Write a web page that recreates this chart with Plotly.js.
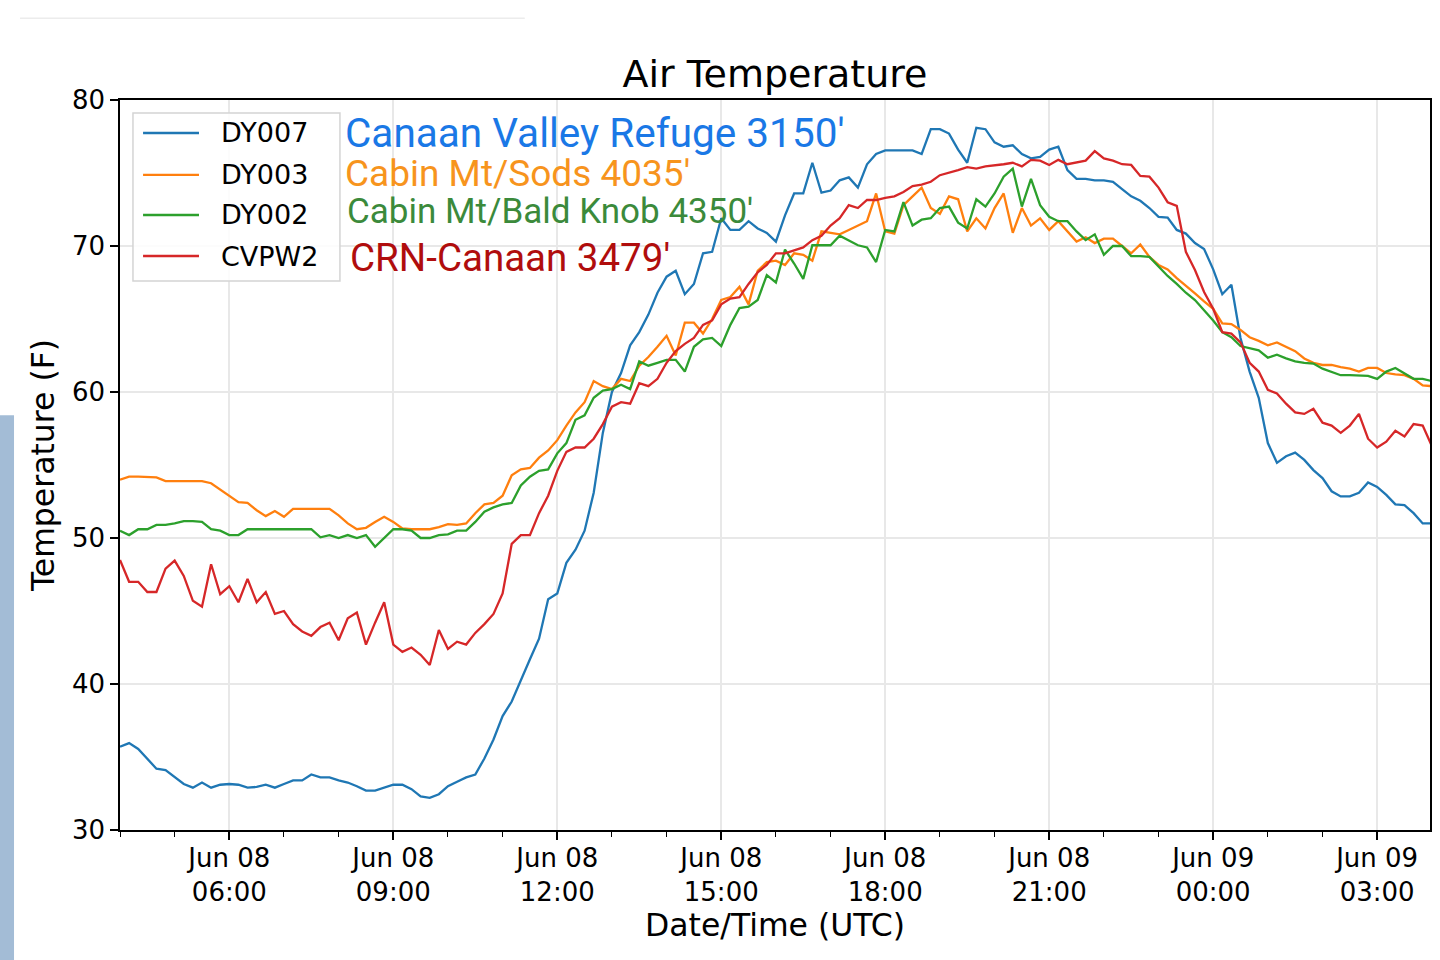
<!DOCTYPE html>
<html>
<head>
<meta charset="utf-8">
<script src="https://cdn.plot.ly/plotly-3.0.1.min.js"></script>
<style>
  body { margin: 0; background: #fff; }
  #plot-area { width: 1440px; height: 960px; }
</style>
</head>
<body>
<div id="plot-area"></div>
<script>
// 10-minute readings, Jun 08 04:00 UTC -> Jun 09 04:00 UTC
const startDay = 8
const startMinute = 4 * 60
const stepMinutes = 10

const stations = ["DY007", "DY003", "DY002", "CVPW2"]
const siteLabels = ["Canaan Valley Refuge 3150'", "Cabin Mt/Sods 4035'", "Cabin Mt/Bald Knob 4350'", "CRN-Canaan 3479'"]

const dy007 = [
  35.7, 35.95, 35.55, 34.85, 34.2, 34.1, 33.6, 33.15, 32.9, 33.25,
  32.9, 33.1, 33.15, 33.1, 32.9, 32.95, 33.1, 32.9, 33.15, 33.4,
  33.4, 33.8, 33.6, 33.6, 33.4, 33.25, 33.0, 32.7, 32.7, 32.9,
  33.1, 33.1, 32.8, 32.3, 32.2, 32.45, 33.0, 33.3, 33.6, 33.8,
  34.9, 36.2, 37.8, 38.8, 40.3, 41.7, 43.1, 45.8, 46.2, 48.3,
  49.2, 50.5, 53.1, 57.2, 60.0, 61.3, 63.2, 64.1, 65.3, 66.8,
  67.9, 68.3, 66.7, 67.4, 69.5, 69.6, 71.9, 71.1, 71.1, 71.7,
  71.2, 70.9, 70.3, 72.1, 73.6, 73.6, 75.7, 73.65, 73.8, 74.5,
  74.7, 74.0, 75.6, 76.3, 76.55, 76.55, 76.55, 76.55, 76.3, 78.0,
  78.0, 77.7, 76.6, 75.7, 78.1, 78.0, 77.1, 76.8, 76.9, 76.3,
  76.0, 76.1, 76.6, 76.8, 75.2, 74.6, 74.6, 74.5, 74.5, 74.4,
  73.9, 73.4, 73.1, 72.6, 72.0, 71.95, 71.1, 70.85, 70.2, 69.8,
  68.4, 66.7, 67.35, 63.7, 61.4, 59.6, 56.5, 55.15, 55.6, 55.85,
  55.35, 54.65, 54.1, 53.2, 52.85, 52.85, 53.1, 53.8, 53.5, 52.95,
  52.3, 52.25, 51.7, 51.0, 51.0
]

const dy003 = [
  54.0, 54.2, 54.2, 54.2, 54.15, 53.9, 53.9, 53.9, 53.9, 53.9,
  53.75, 53.3, 52.9, 52.45, 52.4, 51.9, 51.5, 51.85, 51.45, 52.0,
  52.0, 52.0, 52.0, 52.0, 51.55, 51.0, 50.6, 50.7, 51.1, 51.45,
  51.1, 50.65, 50.6, 50.6, 50.6, 50.75, 50.95, 50.9, 51.0, 51.7,
  52.3, 52.4, 52.9, 54.3, 54.7, 54.8, 55.5, 56.0, 56.7, 57.7,
  58.6, 59.3, 60.75, 60.4, 60.2, 60.9, 60.75, 61.8, 62.4, 63.1,
  63.85, 62.5, 64.75, 64.75, 64.0, 65.0, 66.3, 66.5, 67.2, 66.0,
  68.3, 68.9, 69.0, 68.7, 69.5, 69.4, 69.0, 71.0, 70.9, 70.8,
  71.1, 71.4, 71.7, 73.6, 71.0, 70.85, 72.8, 73.4, 74.0, 72.6,
  72.2, 73.4, 73.2, 71.0, 71.9, 71.2, 72.6, 73.6, 70.9, 72.6,
  71.4, 71.9, 71.1, 71.7, 71.0, 70.3, 70.6, 70.2, 70.5, 70.5,
  70.0, 69.5, 70.1, 69.25, 68.7, 68.4, 67.8, 67.3, 66.75, 66.2,
  65.7, 64.7, 64.65, 64.25, 63.75, 63.5, 63.2, 63.4, 63.1, 62.8,
  62.3, 62.0, 61.85, 61.85, 61.7, 61.6, 61.4, 61.65, 61.65, 61.3,
  61.2, 61.15, 60.9, 60.45, 60.4
]

const dy002 = [
  50.5, 50.2, 50.6, 50.6, 50.9, 50.9, 51.0, 51.15, 51.15, 51.1,
  50.6, 50.5, 50.2, 50.2, 50.6, 50.6, 50.6, 50.6, 50.6, 50.6,
  50.6, 50.6, 50.05, 50.2, 50.0, 50.2, 50.0, 50.2, 49.4, 50.0,
  50.6, 50.6, 50.5, 50.0, 50.0, 50.2, 50.25, 50.5, 50.5, 51.1,
  51.8, 52.1, 52.3, 52.4, 53.6, 54.2, 54.6, 54.7, 55.8, 56.5,
  58.1, 58.4, 59.6, 60.1, 60.2, 60.5, 60.2, 62.1, 61.8, 62.0,
  62.2, 62.2, 61.4, 63.1, 63.6, 63.7, 63.15, 64.6, 65.75, 65.85,
  66.3, 68.0, 67.5, 69.75, 68.8, 67.75, 70.05, 70.05, 70.05, 70.7,
  70.4, 70.05, 69.9, 68.9, 71.1, 71.0, 73.0, 71.4, 71.8, 71.9,
  72.6, 72.7, 71.6, 71.2, 73.2, 72.7, 73.6, 74.75, 75.3, 72.7,
  74.6, 72.8, 72.0, 71.7, 71.7, 71.0, 70.4, 70.8, 69.4, 70.0,
  70.0, 69.3, 69.3, 69.25, 68.6, 67.95, 67.4, 66.8, 66.3, 65.6,
  64.9, 64.1, 63.75, 63.15, 63.0, 62.85, 62.35, 62.55, 62.3, 62.1,
  62.0, 61.95, 61.6, 61.4, 61.15, 61.15, 61.15, 61.1, 60.9, 61.4,
  61.65, 61.25, 60.9, 60.9, 60.75
]

const cvpw2 = [
  48.5, 47.0, 47.0, 46.3, 46.3, 47.9, 48.45, 47.4, 45.7, 45.3,
  48.2, 46.15, 46.7, 45.6, 47.2, 45.6, 46.3, 44.8, 45.0, 44.1,
  43.6, 43.3, 43.9, 44.2, 43.0, 44.5, 44.9, 42.7, 44.2, 45.6,
  42.7, 42.2, 42.5, 42.0, 41.3, 43.7, 42.4, 42.9, 42.7, 43.5,
  44.1, 44.8, 46.2, 49.6, 50.2, 50.2, 51.7, 52.9, 54.6, 55.9,
  56.2, 56.2, 56.8, 57.8, 59.0, 59.3, 59.2, 60.6, 60.4, 60.9,
  62.0, 62.8, 63.3, 63.7, 64.6, 64.9, 66.0, 66.4, 66.5, 67.4,
  68.2, 68.7, 69.5, 69.5, 69.7, 69.9, 70.4, 70.7, 71.4, 71.9,
  72.8, 72.6, 73.15, 73.15, 73.3, 73.4, 73.7, 74.1, 74.2, 74.4,
  74.85, 75.0, 75.2, 75.4, 75.3, 75.45, 75.5, 75.6, 75.7, 75.45,
  75.9, 75.85, 75.55, 75.9, 75.6, 75.7, 75.85, 76.5, 76.0, 75.85,
  75.6, 75.55, 74.8, 74.75, 74.0, 73.0, 72.75, 69.6, 68.35, 66.85,
  65.7, 64.1, 64.0, 63.4, 62.0, 61.4, 60.15, 59.9, 59.2, 58.6,
  58.5, 58.85, 57.9, 57.7, 57.2, 57.7, 58.5, 56.8, 56.2, 56.6,
  57.35, 56.95, 57.8, 57.7, 56.3
]

const lineColors = ["#1f77b4", "#ff7f0e", "#2ca02c", "#d62728"]
const labelColors = ["#1a78e6", "#f7941d", "#3b8a3b", "#b00d0d"]

function pad(n) {
  return String(n).padStart(2, "0")
}

function stamp(i) {
  const total = startMinute + i * stepMinutes
  const day = startDay + Math.floor(total / 1440)
  const m = total % 1440
  return "2019-06-" + pad(day) + " " + pad(Math.floor(m / 60)) + ":" + pad(m % 60)
}

const times = dy007.map((_, i) => stamp(i))
const series = [dy007, dy003, dy002, cvpw2]

const traces = series.map((values, k) => ({
  name: stations[k],
  x: times,
  y: values,
  type: "scatter",
  mode: "lines",
  line: {color: lineColors[k], width: 2.3}
}))

const font = "DejaVu Sans, sans-serif"

// legend box drawn matplotlib-style (long line samples), paper coords
const legendRowY = [0.9548, 0.8973, 0.8425, 0.7863]
const shapes = [
  {type: "rect", xref: "paper", yref: "paper", x0: 0.0099, x1: 0.1679, y0: 0.752, y1: 0.9822,
   line: {color: "#d4d4d4", width: 1.5}, fillcolor: "rgba(255,255,255,0.85)", layer: "above"}
]
const annotations = []
stations.forEach((name, k) => {
  shapes.push({type: "line", xref: "paper", yref: "paper", x0: 0.0176, x1: 0.0603,
    y0: legendRowY[k], y1: legendRowY[k], line: {color: lineColors[k], width: 2.3}, layer: "above"})
  annotations.push({text: name, xref: "paper", yref: "paper", x: 0.0756, y: legendRowY[k],
    xanchor: "left", yanchor: "middle", showarrow: false,
    font: {family: font, size: 27, color: "#000"}})
})

// site labels beside the legend
const labelX = [0.1702, 0.1702, 0.1718, 0.174]
const labelY = [0.955, 0.9, 0.847, 0.784]
const labelSize = [40.5, 37, 35, 38.5]
siteLabels.forEach((t, k) => {
  annotations.push({
    text: t,
    xref: "paper", yref: "paper",
    x: labelX[k], y: labelY[k],
    xanchor: "left", yanchor: "middle",
    showarrow: false,
    font: {family: "Roboto, sans-serif", size: labelSize[k], color: labelColors[k]}
  })
})

// faint line and side bar seen in the screenshot
shapes.push({type: "line", xref: "paper", yref: "paper", x0: -0.0763, x1: 0.309, y0: 1.112, y1: 1.112, line: {color: "#ececec", width: 1.5}})
shapes.push({type: "rect", xref: "paper", yref: "paper", x0: -0.0916, x1: -0.0809, y0: -0.18, y1: 0.568, line: {width: 0}, fillcolor: "#a3bcd6"})

const axisStyle = {
  showline: true,
  linecolor: "#000",
  linewidth: 1.5,
  mirror: true,
  ticks: "outside",
  ticklen: 8,
  tickwidth: 1.5,
  tickcolor: "#000",
  showgrid: true,
  gridcolor: "#e8e8e8",
  gridwidth: 1.5,
  zeroline: false,
  tickfont: {family: font, size: 26, color: "#000"}
}

const layout = {
  width: 1440,
  height: 960,
  margin: {l: 120, r: 10, t: 100, b: 130},
  paper_bgcolor: "#fff",
  plot_bgcolor: "#fff",
  font: {family: font, color: "#000"},
  showlegend: false,
  title: {
    text: "Air Temperature",
    font: {family: font, size: 38, color: "#000"},
    xref: "paper", x: 0.5, xanchor: "center",
    yref: "container", y: 0.923, yanchor: "middle"
  },
  xaxis: Object.assign({}, axisStyle, {
    type: "date",
    range: ["2019-06-08 04:00", "2019-06-09 03:58"],
    tick0: "2019-06-08 00:00",
    dtick: 3 * 3600000,
    tickformat: "%b %d<br>%H:%M",
    ticklabelstandoff: -4,
    minor: {dtick: 3600000, tick0: "2019-06-08 00:00", ticks: "outside", ticklen: 5, tickwidth: 1.2, tickcolor: "#000", showgrid: false},
    title: {text: "Date/Time (UTC)", font: {family: font, size: 31.5, color: "#000"}, standoff: 6}
  }),
  yaxis: Object.assign({}, axisStyle, {
    range: [30, 80],
    dtick: 10,
    title: {text: "Temperature (F)", font: {family: font, size: 31.5, color: "#000"}, standoff: 8}
  }),
  annotations: annotations,
  shapes: shapes
}

Plotly.newPlot("plot-area", traces, layout, {displayModeBar: false})
</script>
</body>
</html>
